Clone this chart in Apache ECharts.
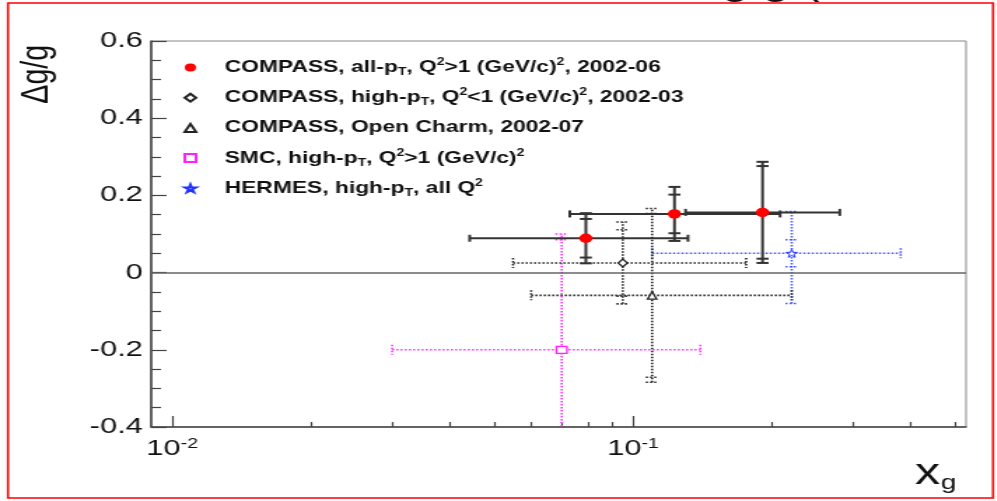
<!DOCTYPE html>
<html>
<head>
<meta charset="utf-8">
<script src="https://cdn.jsdelivr.net/npm/echarts@6/dist/echarts.min.js"></script>
<style>
  html, body { margin: 0; padding: 0; background: #fff; overflow: hidden; }
  /* the reference picture is stretched sideways, so the chart is drawn narrow and widened */
  #box { width: 712px; height: 501px; transform: scaleX(1.4); transform-origin: 0 0; }
</style>
</head>
<body>
<div id="box"></div>
<script>
var FONT = 'Liberation Sans';

// columns: xg, dg/g, x low, x high, stat down, stat up, total down, total up
var compassAllPt = [
  [0.079, 0.089, 0.0442, 0.1316, 0.050, 0.050, 0.065, 0.065],
  [0.123, 0.152, 0.0729, 0.2085, 0.050, 0.050, 0.070, 0.070],
  [0.191, 0.156, 0.1300, 0.2810, 0.120, 0.120, 0.131, 0.131]
];
var compassHighPt = [
  [0.095, 0.025, 0.0549, 0.176, 0.086, 0.086, 0.106, 0.106]
];
var compassCharm = [
  [0.110, -0.059, 0.0601, 0.221, 0.212, 0.212, 0.225, 0.225]
];
var smcHighPt = [
  [0.070, -0.200, 0.030, 0.140, 0.285, 0.285, 0.300, 0.300]
];
var hermesHighPt = [
  [0.221, 0.050, 0.110, 0.381, 0.035, 0.035, 0.130, 0.108]
];

var seriesNames = ['COMPASS all-pT', 'COMPASS high-pT Q2<1', 'COMPASS open charm', 'SMC high-pT', 'HERMES high-pT'];
var legendLabels = [
  '{gap|}COMPASS, all-p{sub|T}, Q{sup|2}>1 (GeV/c){sup|2}, 2002-06',
  '{gap|}COMPASS, high-p{sub|T}, Q{sup|2}<1 (GeV/c){sup|2}, 2002-03',
  '{gap|}COMPASS, Open Charm, 2002-07',
  '{gap|}SMC, high-p{sub|T}, Q{sup|2}>1 (GeV/c){sup|2}',
  '{gap|}HERMES, high-p{sub|T}, all Q{sup|2}'
];

var xMin = 0.009, xMax = 0.528;
var xMajorTicks = [0.01, 0.1];
var xMinorTicks = [0.02, 0.03, 0.04, 0.05, 0.06, 0.07, 0.08, 0.09, 0.2, 0.3, 0.4, 0.5];
var yMin = -0.4, yMax = 0.6, yStep = 0.2;

var starPath = 'path://M50,0 L61,35 L98,35 L68,57 L79,91 L50,70 L21,91 L32,57 L2,35 L39,35 Z';

function errorBars(color, width, dash, capX, capY) {
  return function (params, api) {
    var x = api.value(0), y = api.value(1);
    var c = api.coord([x, y]);
    var xl = api.coord([api.value(2), y])[0];
    var xh = api.coord([api.value(3), y])[0];
    var ys1 = api.coord([x, y - api.value(4)])[1];
    var ys2 = api.coord([x, y + api.value(5)])[1];
    var yt1 = api.coord([x, y - api.value(6)])[1];
    var yt2 = api.coord([x, y + api.value(7)])[1];
    var st = { stroke: color, lineWidth: width, lineDash: dash, fill: null };
    function seg(x1, y1, x2, y2) {
      return { type: 'line', shape: { x1: x1, y1: y1, x2: x2, y2: y2 }, style: st };
    }
    return {
      type: 'group',
      children: [
        seg(xl, c[1], xh, c[1]),
        seg(xl, c[1] - capX, xl, c[1] + capX),
        seg(xh, c[1] - capX, xh, c[1] + capX),
        seg(c[0], yt1, c[0], yt2),
        seg(c[0] - capY, yt1, c[0] + capY, yt1),
        seg(c[0] - capY, yt2, c[0] + capY, yt2),
        seg(c[0] - capY, ys1, c[0] + capY, ys1),
        seg(c[0] - capY, ys2, c[0] + capY, ys2)
      ]
    };
  };
}

function barSeries(rows, color, width, dash, capX, capY) {
  return {
    type: 'custom', clip: true, silent: true, z: 2,
    encode: { x: 0, y: 1 },
    data: rows,
    renderItem: errorBars(color, width, dash, capX, capY)
  };
}

function markSeries(i, rows, symbol, size, fill, border, bw) {
  return {
    name: seriesNames[i], type: 'scatter', z: 5, silent: true,
    symbol: symbol, symbolSize: size,
    itemStyle: { color: fill, borderColor: border, borderWidth: border ? bw : 0, opacity: 1 },
    data: rows.map(function (r) { return [r[0], r[1]]; })
  };
}

var dot = [1.5, 1.5];
var axisColor = '#444';

var myChart = echarts.init(document.getElementById('box'));
var option = {
  animation: false,
  backgroundColor: '#fff',
  grid: { left: 108, right: 22, top: 41, bottom: 74, show: true, borderColor: '#888', borderWidth: 1,
          containLabel: false, outerBoundsMode: 'none' },
  legend: {
    orient: 'vertical', left: 131, top: 57.5, padding: 0, itemWidth: 8, itemHeight: 8, itemGap: 10.2,
    selectedMode: false,
    data: seriesNames,
    formatter: function (name) { return legendLabels[seriesNames.indexOf(name)]; },
    textStyle: {
      fontFamily: FONT, fontWeight: 'bold', fontSize: 16.3, color: '#111', lineHeight: 20,
      rich: {
        gap: { width: 15.5 },
        sub: { fontFamily: FONT, fontWeight: 'bold', fontSize: 10, color: '#111', lineHeight: 10, verticalAlign: 'bottom' },
        sup: { fontFamily: FONT, fontWeight: 'bold', fontSize: 10, color: '#111', lineHeight: 10, verticalAlign: 'top' }
      }
    }
  },
  xAxis: [
    {
      type: 'log', logBase: 10, min: xMin, max: xMax, position: 'bottom',
      axisLine: { show: true, onZero: false, lineStyle: { color: axisColor, width: 1.5 } },
      axisTick: { show: true, inside: true, length: 11, customValues: xMajorTicks, lineStyle: { color: axisColor, width: 1.2 } },
      axisLabel: {
        customValues: xMajorTicks, margin: 10,
        formatter: function (v) { return '{b|10}{s|' + Math.round(Math.log10(v)) + '}'; },
        rich: {
          b: { fontFamily: FONT, fontSize: 22, color: '#111', lineHeight: 24 },
          s: { fontFamily: FONT, fontSize: 14, color: '#111', lineHeight: 12, verticalAlign: 'top' }
        }
      },
      splitLine: { show: false }, minorTick: { show: false }
    },
    {
      type: 'log', logBase: 10, min: xMin, max: xMax, position: 'bottom',
      axisLine: { show: false, onZero: false },
      axisTick: { show: true, inside: true, length: 5, customValues: xMinorTicks, lineStyle: { color: axisColor, width: 1.2 } },
      axisLabel: { show: false },
      splitLine: { show: false }
    }
  ],
  yAxis: {
    type: 'value', min: yMin, max: yMax, interval: yStep,
    axisLine: { show: true, onZero: false, lineStyle: { color: axisColor, width: 1.5 } },
    axisTick: { show: true, inside: true, length: 11, lineStyle: { color: axisColor, width: 1.2 } },
    minorTick: { show: true, splitNumber: 4, length: 7, lineStyle: { color: axisColor, width: 1.2 } },
    splitLine: { show: false },
    axisLabel: {
      margin: 6, fontFamily: FONT, fontSize: 22, color: '#111',
      formatter: function (v) { return Math.abs(v) < 1e-9 ? '0' : v.toFixed(1); }
    }
  },
  graphic: [
    { type: 'rect', silent: true, z: 100, shape: { x: 5.7, y: 3, width: 703.6, height: 495 },
      style: { fill: 'none', stroke: '#ff0000', lineWidth: 1.6 } },
    { type: 'text', silent: true, x: 492, y: -14.6,
      style: { text: 'Δg/g (', fontFamily: FONT, fontSize: 35, fill: '#111', align: 'left', verticalAlign: 'middle' } },
    { type: 'text', silent: true, x: 26, y: 45, rotation: Math.PI / 2,
      style: { text: 'Δg/g', fontFamily: FONT, fontSize: 28.5, fill: '#111', align: 'right', verticalAlign: 'middle' } },
    { type: 'text', silent: true, x: 653.6, y: 474.5,
      style: { text: 'x', fontFamily: FONT, fontSize: 36, fill: '#111', align: 'left', verticalAlign: 'middle' } },
    { type: 'text', silent: true, x: 672, y: 483,
      style: { text: 'g', fontFamily: FONT, fontSize: 20, fill: '#111', align: 'left', verticalAlign: 'middle' } }
  ],
  series: [
    barSeries(smcHighPt, '#ff33ff', 1.6, dot, 5, 4.5),
    barSeries(hermesHighPt, '#4455ff', 1.6, dot, 5, 4.5),
    barSeries(compassHighPt, '#222', 1.6, dot, 5, 4.5),
    barSeries(compassCharm, '#222', 1.6, dot, 5, 4.5),
    barSeries(compassAllPt, '#333', 2, null, 3.5, 4.3),
    Object.assign(markSeries(0, compassAllPt, 'circle', 9.5, '#ff0000', null, 0), {
      markLine: {
        silent: true, symbol: 'none', label: { show: false },
        lineStyle: { color: '#666', width: 1.5, type: 'solid' },
        data: [{ yAxis: 0 }]
      }
    }),
    markSeries(1, compassHighPt, 'diamond', [6.5, 8], '#fff', '#222', 1.3),
    markSeries(2, compassCharm, 'triangle', [6.5, 7.5], '#fff', '#222', 1.3),
    markSeries(3, smcHighPt, 'rect', [7.5, 7], '#fff', '#ff22ff', 1.3),
    markSeries(4, hermesHighPt, starPath, [8, 8], '#fff', '#2233ff', 1)
  ]
};
myChart.setOption(option);
</script>
</body>
</html>
